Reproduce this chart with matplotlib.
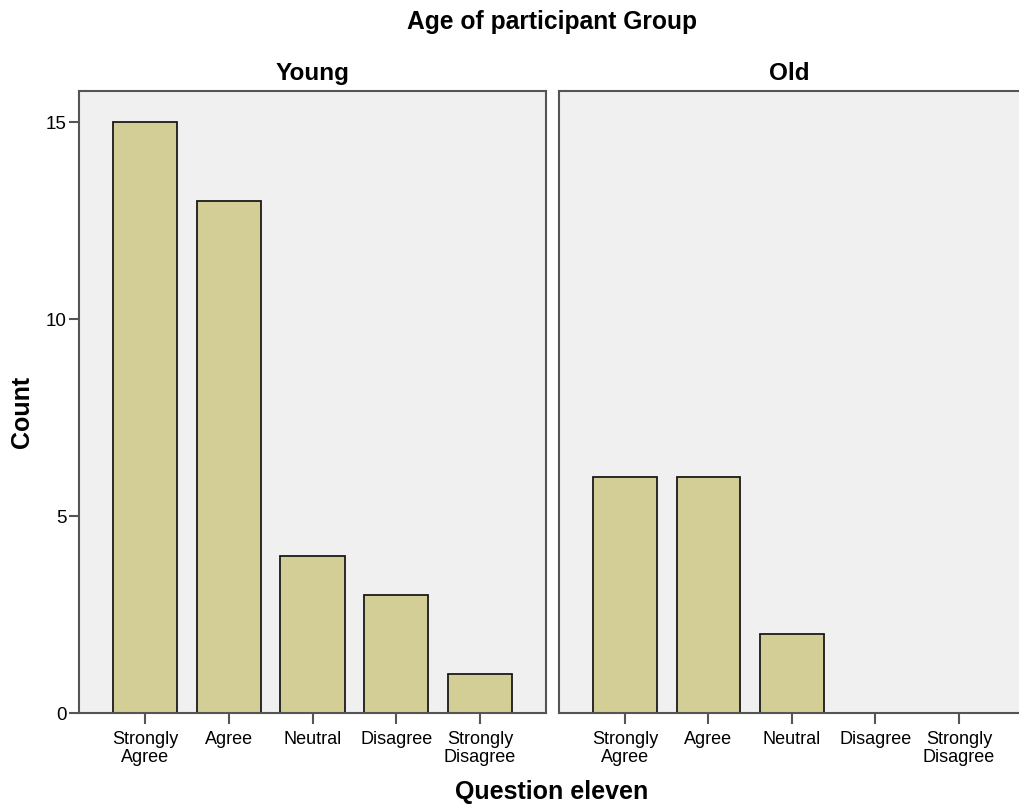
import matplotlib
matplotlib.use("Agg")
import matplotlib.pyplot as plt

categories = ["Strongly\nAgree", "Agree", "Neutral", "Disagree", "Strongly\nDisagree"]
groups = ["Young", "Old"]
young_counts = [15, 13, 4, 3, 1]
old_counts = [6, 6, 2, 0, 0]
yticks = [0, 5, 10, 15]

plt.rcParams['font.family'] = ['Liberation Sans', 'DejaVu Sans']

W, H = 1019, 805
fig = plt.figure(figsize=(W / 100, H / 100), dpi=100)

def frac(x0, y0, x1, y1):
    return [x0 / W, 1 - y1 / H, (x1 - x0) / W, (y1 - y0) / H]

ax1 = fig.add_axes(frac(79, 91, 546, 713))
ax2 = fig.add_axes(frac(559, 91, 1019, 713))

bar_color = "#d3cd96"
edge = "#1a1a1a"
spine_c = "#555555"

for ax, vals, name, xr in [(ax1, young_counts, groups[0], 4.79), (ax2, old_counts, groups[1], 4.72)]:
    ax.set_facecolor("#f0f0f0")
    x = list(range(len(categories)))
    ax.bar(x, vals, width=0.765, color=bar_color, edgecolor=edge, linewidth=1.3, zorder=2)
    ax.set_xlim(-0.79, xr)
    ax.set_ylim(0, 15.8)
    ax.set_xticks(x)
    ax.set_xticklabels(categories, fontsize=13, linespacing=1.05)
    ax.tick_params(axis='x', length=8, width=1.5, color=spine_c, pad=5)
    for s in ax.spines.values():
        s.set_color(spine_c)
        s.set_linewidth(1.5)
        s.set_zorder(3)
    ax.set_title(name, fontsize=17.5, fontweight='bold', pad=8)

ax2.spines['right'].set_visible(False)
ax1.set_yticks(yticks)
ax1.set_yticklabels([str(v) for v in yticks], fontsize=13.5)
ax1.tick_params(axis='y', length=7, width=1.5, color=spine_c, pad=2)
ax2.set_yticks([])

fig.text(552 / W, 1 - 22 / H, "Age of participant Group", fontsize=17.7, fontweight='bold',
         ha='center', va='center')
fig.text(22 / W, 1 - 412 / H, "Count", fontsize=18, fontweight='bold', rotation=90,
         ha='center', va='center')
fig.text(552 / W, 1 - 792 / H, "Question eleven", fontsize=18, fontweight='bold',
         ha='center', va='center')

fig.savefig("out.png", dpi=100, facecolor="white")
